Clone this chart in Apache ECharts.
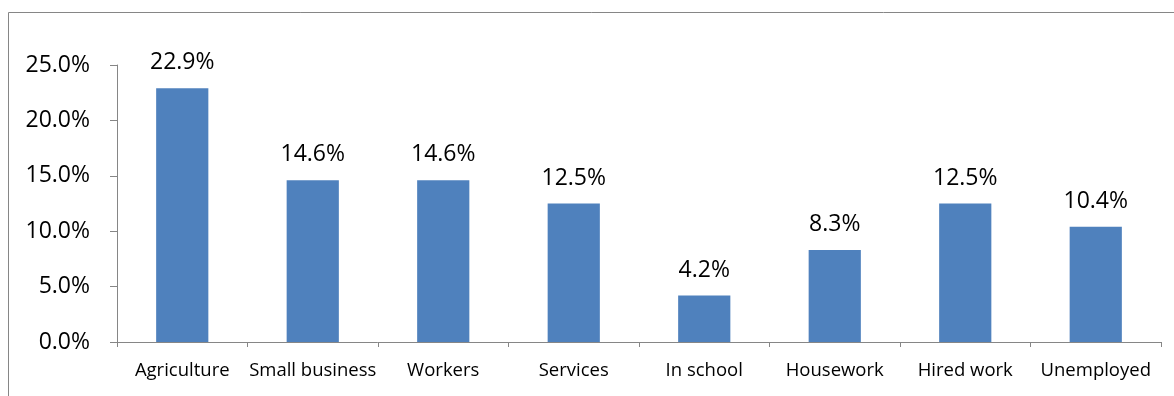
<!DOCTYPE html>
<html>
<head>
<meta charset="utf-8">
<script src="https://cdn.jsdelivr.net/npm/echarts@6/dist/echarts.min.js"></script>
<style>
  html, body { margin: 0; padding: 0; background: #fff; }
  #chart { width: 1174px; height: 396px; }
</style>
</head>
<body>
<div id="chart"></div>
<script>
// Occupation categories and their shares (%)
const categories = ['Agriculture', 'Small business', 'Workers', 'Services', 'In school', 'Housework', 'Hired work', 'Unemployed'];
const shares = [22.9, 14.6, 14.6, 12.5, 4.2, 8.3, 12.5, 10.4];
const yMin = 0;
const yMax = 25;
const yStep = 5;

const font = '"Open Sans", Lato, sans-serif';
const axisGray = '#868686';

const chart = echarts.init(document.getElementById('chart'), null, { renderer: 'canvas' });
chart.setOption({
  animation: false,
  backgroundColor: '#fff',
  graphic: [{
    type: 'rect',
    shape: { x: 8.5, y: 12.5, width: 1300, height: 500 },
    style: { fill: 'none', stroke: axisGray, lineWidth: 1 },
    silent: true
  }],
  grid: { left: 117, right: 13, top: 65, bottom: 54 },
  xAxis: {
    type: 'category',
    data: categories,
    axisLine: { lineStyle: { color: axisGray, width: 1 } },
    axisTick: { show: true, length: 5, alignWithLabel: false, lineStyle: { color: axisGray } },
    axisLabel: { color: '#000', fontFamily: font, fontSize: 18.5, margin: 19, interval: 0 }
  },
  yAxis: {
    type: 'value',
    min: yMin, max: yMax, interval: yStep,
    axisLine: { show: true, lineStyle: { color: axisGray, width: 1 } },
    axisTick: { show: true, length: 7, lineStyle: { color: axisGray } },
    splitLine: { show: false },
    axisLabel: {
      color: '#000', fontFamily: font, fontSize: 23, margin: 27,
      formatter: v => v.toFixed(1) + '%'
    }
  },
  series: [{
    type: 'bar',
    data: shares,
    barWidth: '40%',
    itemStyle: { color: '#4F81BD' },
    label: {
      show: true, position: 'top', distance: 14,
      color: '#000', fontFamily: font, fontSize: 23,
      formatter: p => p.value.toFixed(1) + '%'
    }
  }]
});
</script>
</body>
</html>
